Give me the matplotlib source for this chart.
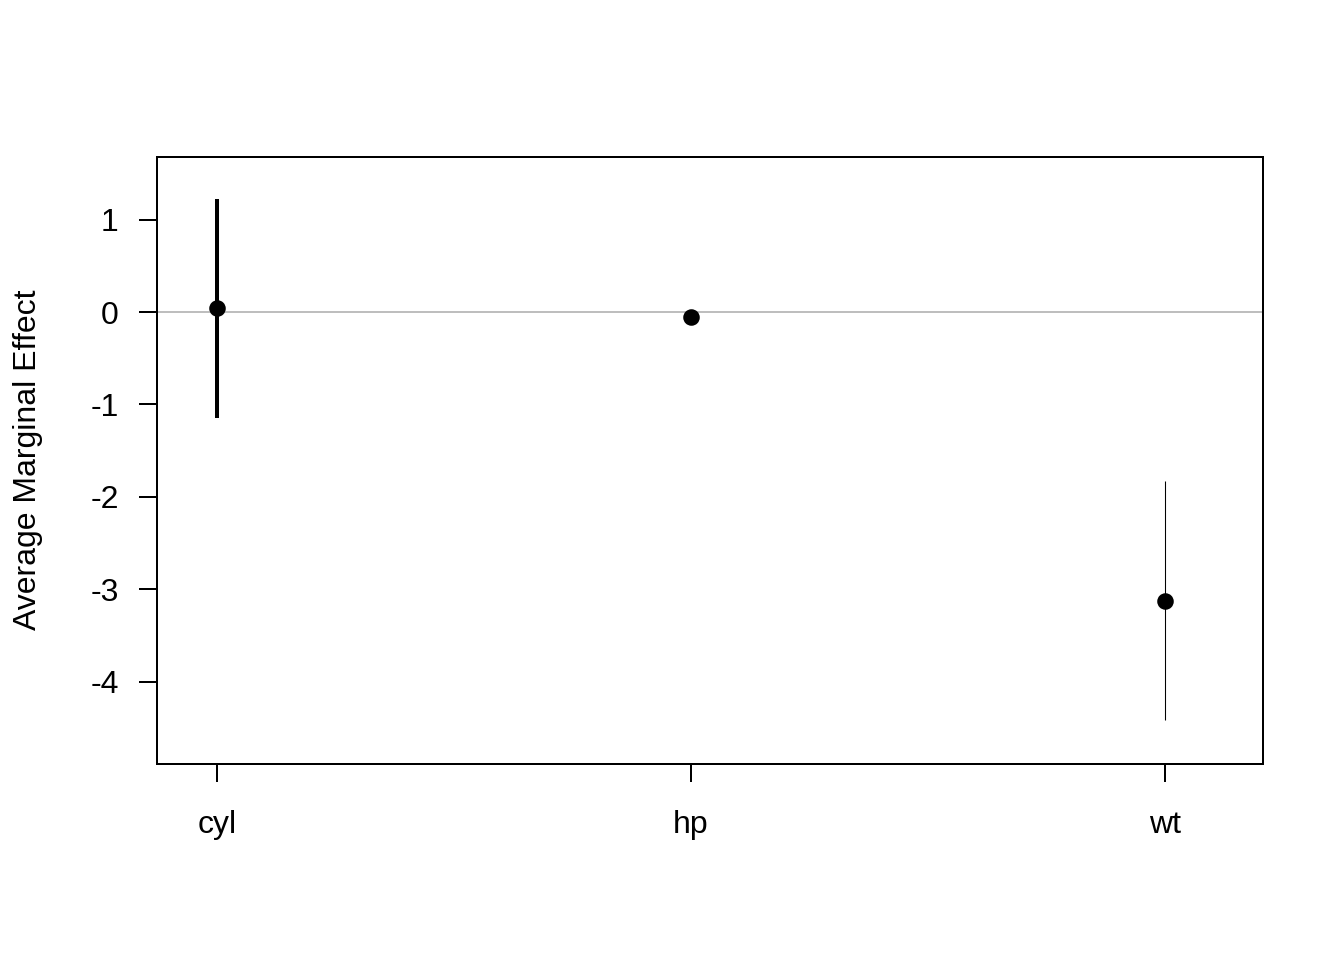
import matplotlib.pyplot as plt

plt.rcParams['font.family'] = ['Liberation Sans', 'DejaVu Sans']

# average marginal effects
terms = ['cyl', 'hp', 'wt']
ame = [0.043, -0.054, -3.128]
lower = [-1.147, -0.07, -4.416]
upper = [1.223, -0.04, -1.829]
yticks = [1, 0, -1, -2, -3, -4]

line_w = [1.5, 0.75, 0.4]

fig = plt.figure(figsize=(7, 5), dpi=192)
ax = fig.add_axes([157/1344, 1 - 764/960, 1106/1344, 607/960])

ax.axhline(0, color='#BEBEBE', lw=0.75, zorder=1)
xs = list(range(1, len(terms) + 1))
for x, lo, hi, w in zip(xs, lower, upper, line_w):
    ax.plot([x, x], [lo, hi], color='black', lw=w, solid_capstyle='butt', zorder=2)
ax.plot(xs, ame, 'o', color='black', ms=5.2, zorder=3)

ax.set_xlim(0.8734, 3.2068)
ax.set_ylim(-4.892, 1.678)
ax.set_xticks(xs)
ax.set_xticklabels(terms)
ax.set_yticks(yticks)
ax.set_yticklabels([str(t) for t in yticks])
ax.tick_params(axis='both', length=6.8, width=0.75, labelsize=12, color='black')
ax.tick_params(axis='x', pad=10.4)
ax.tick_params(axis='y', pad=7.5)
for s in ax.spines.values():
    s.set_linewidth(0.75)

ax.set_ylabel('Average Marginal Effect', fontsize=12)
ax.yaxis.label.set_va('center')
ax.yaxis.set_label_coords(-0.1165, (764 - 460) / 607)

fig.savefig('out.png', dpi=192)
